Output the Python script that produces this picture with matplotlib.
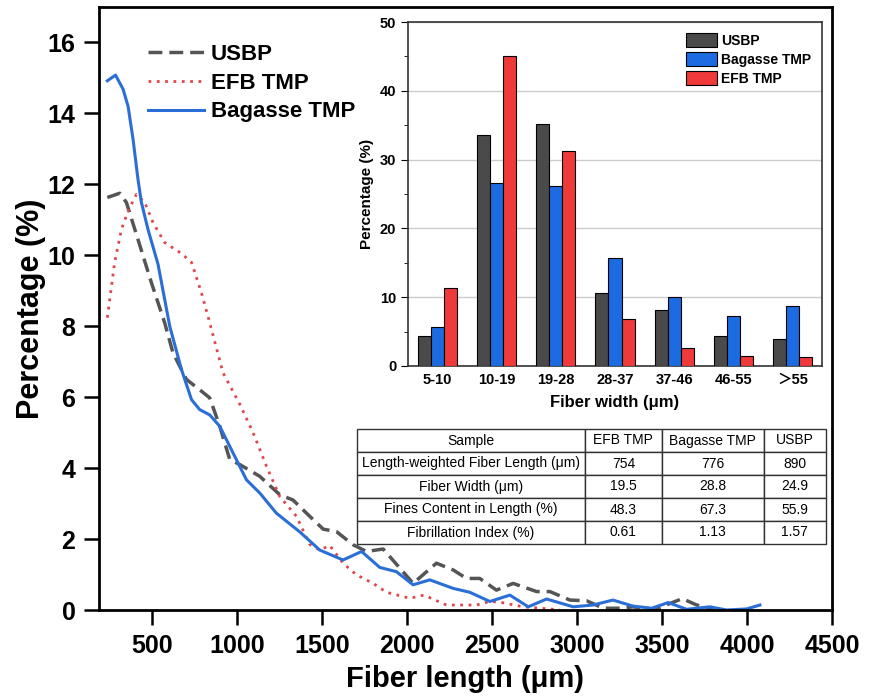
import numpy as np
import matplotlib.pyplot as plt

plt.rcParams['font.family'] = ['Liberation Sans', 'Noto Sans CJK SC', 'DejaVu Sans']

# fiber length distribution
bag_x = [239, 287, 331, 361, 390, 419, 439, 478, 537, 606, 675, 734, 782, 841, 900,
         978, 1057, 1135, 1233, 1371, 1488, 1625, 1734, 1841, 1939, 2037, 2135, 2272,
         2370, 2488, 2606, 2714, 2822, 2978, 3094, 3212, 3330, 3440, 3537, 3645, 3782,
         3880, 3998, 4076]
bag_y = [14.92, 15.08, 14.69, 14.2, 13.28, 12.15, 11.5, 10.73, 9.75, 8.0, 6.78, 5.93,
         5.65, 5.5, 5.18, 4.43, 3.67, 3.3, 2.73, 2.2, 1.69, 1.41, 1.65, 1.2, 1.08, 0.71,
         0.85, 0.61, 0.5, 0.24, 0.42, 0.09, 0.31, 0.09, 0.14, 0.28, 0.11, 0.05, 0.21,
         0.02, 0.09, 0.0, 0.03, 0.14]

usbp_x = [239, 312, 351, 419, 498, 576, 625, 704, 782, 841, 900, 959, 1018, 1135, 1253,
          1331, 1410, 1508, 1586, 1684, 1763, 1861, 1959, 2037, 2174, 2272, 2351, 2429,
          2527, 2625, 2763, 2841, 2959, 3057, 3155, 3253, 3331, 3449, 3620, 3700, 3800]
usbp_y = [11.63, 11.75, 11.49, 10.45, 9.23, 8.1, 7.25, 6.5, 6.21, 5.98, 5.18, 4.24, 4.1,
          3.77, 3.25, 3.1, 2.73, 2.28, 2.21, 1.84, 1.65, 1.72, 1.18, 0.75, 1.32, 1.13,
          0.89, 0.89, 0.56, 0.75, 0.52, 0.52, 0.28, 0.26, 0.05, 0.05, 0.09, 0.0, 0.32,
          0.15, 0.0]

efb_x = [239, 282, 322, 361, 410, 459, 508, 576, 675, 734, 792, 841, 919, 1018, 1096,
         1175, 1253, 1351, 1429, 1488, 1547, 1625, 1704, 1802, 1880, 2018, 2100, 2233,
         2410, 2488, 2547, 2684, 2861, 2900]
efb_y = [8.24, 9.8, 10.73, 11.25, 11.72, 11.49, 10.92, 10.36, 10.05, 9.8, 8.95, 8.1,
         6.69, 5.8, 5.0, 4.05, 3.2, 2.64, 1.85, 1.69, 1.82, 1.32, 0.99, 0.75, 0.5, 0.33,
         0.42, 0.14, 0.14, 0.24, 0.22, 0.09, 0.02, 0.0]

# fiber width histogram (inset)
width_bins = ['5-10', '10-19', '19-28', '28-37', '37-46', '46-55', '＞55']
usbp_w = [4.3, 33.6, 35.2, 10.6, 8.1, 4.4, 3.9]
bag_w = [5.7, 26.6, 26.1, 15.7, 10.0, 7.3, 8.7]
efb_w = [11.4, 45.1, 31.3, 6.8, 2.6, 1.4, 1.3]

# summary table
col_labels = ['Sample', 'EFB TMP', 'Bagasse TMP', 'USBP']
row_labels = ['Length-weighted Fiber Length (μm)', 'Fiber Width (μm)',
              'Fines Content in Length (%)', 'Fibrillation Index (%)']
efb_tab = ['754', '19.5', '48.3', '0.61']
bag_tab = ['776', '28.8', '67.3', '1.13']
usbp_tab = ['890', '24.9', '55.9', '1.57']

W, H = 878, 698
fig = plt.figure(figsize=(W / 100, H / 100), dpi=100)

# main axes
ax = fig.add_axes([99 / W, 1 - 610 / H, (832 - 99) / W, (610 - 7) / H])
ax.plot(usbp_x, usbp_y, color='#555555', lw=2.5, ls=(0, (4, 2)), label='USBP')
ax.plot(efb_x, efb_y, color='#e0474c', lw=2, ls=(0, (1, 2)), label='EFB TMP')
ax.plot(bag_x, bag_y, color='#2a6ed8', lw=2.2, label='Bagasse TMP')
ax.set_xlim(190, 4500)
ax.set_ylim(0, 17)
ax.set_xticks(np.arange(500, 4501, 500))
ax.set_yticks(np.arange(0, 17, 2))
ax.tick_params(direction='out', length=11, width=1.8, labelsize=18, pad=6)
for lab in ax.get_xticklabels() + ax.get_yticklabels():
    lab.set_fontweight('bold')
for sp in ax.spines.values():
    sp.set_linewidth(2)
ax.set_xlabel('Fiber length (μm)', fontsize=21, fontweight='bold', labelpad=5)
ax.set_ylabel('Percentage (%)', fontsize=22, fontweight='bold', labelpad=1)
leg = ax.legend(loc='upper left', bbox_to_anchor=(0.04, 0.972), frameon=False,
                prop={'size': 16, 'weight': 'bold'}, handlelength=2.5,
                labelspacing=0.35, handletextpad=0.3)

# inset bar chart
ins = fig.add_axes([408 / W, 1 - 366 / H, (822 - 408) / W, (366 - 22) / H])
x = np.arange(len(width_bins))
bw = 0.22
ins.bar(x - bw, usbp_w, bw, color='#4a4a4a', edgecolor='black', lw=0.8, label='USBP', zorder=3)
ins.bar(x, bag_w, bw, color='#1c6be0', edgecolor='black', lw=0.8, label='Bagasse TMP', zorder=3)
ins.bar(x + bw, efb_w, bw, color='#f03a3a', edgecolor='black', lw=0.8, label='EFB TMP', zorder=3)
ins.set_xlim(-0.5, 6.5)
ins.set_ylim(0, 50)
ins.set_yticks(np.arange(0, 51, 10))
ins.set_yticks(np.arange(5, 50, 10), minor=True)
ins.set_xticks(x)
ins.set_xticklabels(width_bins)
ins.grid(axis='y', color='#cccccc', lw=1, zorder=0)
ins.tick_params(axis='y', which='major', direction='out', length=5, labelsize=10.5)
ins.tick_params(axis='y', which='minor', direction='out', length=3)
ins.tick_params(axis='x', length=0, labelsize=10.5, pad=5)
for lab in ins.get_xticklabels() + ins.get_yticklabels():
    lab.set_fontweight('bold')
for sp in ins.spines.values():
    sp.set_linewidth(1.2)
    sp.set_color('#333333')
ins.set_xlabel('Fiber width (μm)', fontsize=12, fontweight='bold', labelpad=6)
ins.set_ylabel('Percentage (%)', fontsize=11, fontweight='bold', labelpad=4)
ins.legend(loc='upper right', frameon=False, prop={'size': 10, 'weight': 'bold'},
           handlelength=2.2, handleheight=1.2, labelspacing=0.3, handletextpad=0.3,
           borderaxespad=0.4)

# table
tax = fig.add_axes([357 / W, 1 - 544 / H, (826 - 357) / W, (544 - 429) / H])
tax.axis('off')
cells = [col_labels] + [[r, a, b, c] for r, a, b, c in zip(row_labels, efb_tab, bag_tab, usbp_tab)]
tbl = tax.table(cellText=cells, cellLoc='center', bbox=[0, 0, 1, 1],
                colWidths=[0.486, 0.164, 0.217, 0.133])
tbl.auto_set_font_size(False)
tbl.set_fontsize(10)
for cell in tbl.get_celld().values():
    cell.set_linewidth(1.0)
    cell.set_edgecolor('#333333')
    cell.set_facecolor('white')

fig.savefig('out.png', dpi=100)
